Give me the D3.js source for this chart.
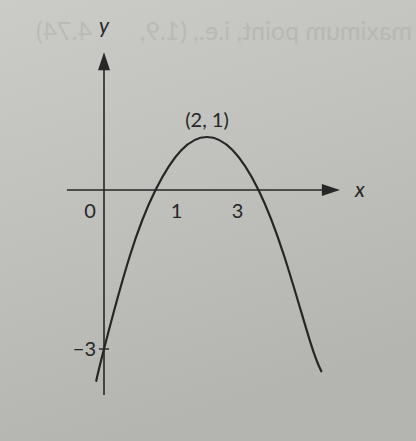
<!DOCTYPE html>
<html><head><meta charset="utf-8">
<script src="https://cdn.jsdelivr.net/npm/d3@7"></script>
<style>html,body{margin:0;padding:0;overflow:hidden;background:#c2c2bf}</style>
</head><body>
<script>
// Data
const curveX = [-0.15, 0, 0.5, 1, 1.5, 2, 2.5, 3, 3.5, 4.0, 4.22];
const curveY = [-3.6, -3, -1.25, 0, 0.75, 1, 0.75, 0, -1.25, -2.85, -3.42];
const xTickValues = [1, 3];
const xTickLabels = ["1", "3"];
const yTickValues = [-3];
const yTickLabels = ["\u22123"];
const originLabel = "0";
const vertex = [2, 1];
const vertexLabel = "(2, 1)";
const xAxisExtent = [-0.72, 4.58];
const yAxisExtent = [-3.87, 2.6];
const ghostTextLeft = "4.74)";
const ghostTextRight = "maximum point, i.e., (1.9,";

const W = 416, H = 441;
const svg = d3.select("body").append("svg").attr("width", W).attr("height", H);

const defs = svg.append("defs");
const g1 = defs.append("linearGradient").attr("id","bg").attr("x1","0").attr("y1","0").attr("x2","0.3").attr("y2","1");
g1.append("stop").attr("offset","0").attr("stop-color","#cbcbc8");
g1.append("stop").attr("offset","0.5").attr("stop-color","#c0c0bd");
g1.append("stop").attr("offset","1").attr("stop-color","#b4b4b1");
svg.append("rect").attr("width",W).attr("height",H).attr("fill","url(#bg)");

// faint show-through text from the reverse side of the page (mirrored)
svg.append("text")
  .attr("transform","translate(412,40) scale(-1,1)")
  .attr("font-family","Lato, sans-serif").attr("font-size",25)
  .attr("fill","#9a9a98").attr("opacity",0.3)
  .text(ghostTextRight);
svg.append("text")
  .attr("transform","translate(92,40) scale(-1,1)")
  .attr("font-family","Lato, sans-serif").attr("font-size",25)
  .attr("fill","#9a9a98").attr("opacity",0.3)
  .text(ghostTextLeft);

const x = d3.scaleLinear().domain([0, 4]).range([104, 310]);
const y = d3.scaleLinear().domain([0, -3]).range([190, 349]);

const ink = "#262626";
const font = "Lato, 'Open Sans', sans-serif";

// axes
svg.append("line").attr("x1", x(xAxisExtent[0])).attr("x2", x(xAxisExtent[1]) - 14)
  .attr("y1", y(0)).attr("y2", y(0)).attr("stroke", ink).attr("stroke-width", 1.6);
svg.append("line").attr("x1", x(0)).attr("x2", x(0))
  .attr("y1", y(yAxisExtent[0])).attr("y2", y(yAxisExtent[1]) + 14).attr("stroke", ink).attr("stroke-width", 1.6);

// arrowheads
const xt = x(xAxisExtent[1]), yt = y(yAxisExtent[1]);
svg.append("path").attr("d", `M${xt},${y(0)} L${xt-18},${y(0)-6} L${xt-18},${y(0)+6} Z`).attr("fill", ink);
svg.append("path").attr("d", `M${x(0)},${yt} L${x(0)-6},${yt+18} L${x(0)+6},${yt+18} Z`).attr("fill", ink);

// curve
const pts = curveX.map((d, i) => [d, curveY[i]]);
const line = d3.line().x(d => x(d[0])).y(d => y(d[1])).curve(d3.curveNatural);
svg.append("path").datum(pts).attr("d", line).attr("fill", "none")
  .attr("stroke", ink).attr("stroke-width", 2.2).attr("stroke-linecap","round");

// y tick
yTickValues.forEach((v, i) => {
  svg.append("line").attr("x1", x(0) - 5).attr("x2", x(0) + 5).attr("y1", y(v)).attr("y2", y(v))
    .attr("stroke", ink).attr("stroke-width", 1.4);
  svg.append("text").attr("x", x(0) - 8).attr("y", y(v) + 7).attr("text-anchor", "end")
    .attr("font-family", font).attr("font-size", 20).attr("fill", ink).text(yTickLabels[i]);
});

// x tick labels (placed beside the crossings as in the figure)
const xOffsets = [21, -21];
xTickValues.forEach((v, i) => {
  svg.append("text").attr("x", x(v) + xOffsets[i]).attr("y", y(0) + 28).attr("text-anchor", "middle")
    .attr("font-family", font).attr("font-size", 20).attr("fill", ink).text(xTickLabels[i]);
});
svg.append("text").attr("x", x(0) - 14).attr("y", y(0) + 28).attr("text-anchor", "middle")
  .attr("font-family", font).attr("font-size", 20).attr("fill", ink).text(originLabel);

// axis labels
svg.append("text").attr("x", xt + 20).attr("y", y(0) + 7).attr("text-anchor", "middle")
  .attr("font-family", font).attr("font-style", "italic").attr("font-size", 21).attr("fill", ink).text("x");
svg.append("text").attr("x", x(0)).attr("y", yt - 19).attr("text-anchor", "middle")
  .attr("font-family", font).attr("font-style", "italic").attr("font-size", 21).attr("fill", ink).text("y");

// vertex label
svg.append("text").attr("x", x(vertex[0])).attr("y", y(vertex[1]) - 10).attr("text-anchor", "middle")
  .attr("font-family", font).attr("font-size", 20).attr("fill", ink).text(vertexLabel);
</script>
</body></html>
